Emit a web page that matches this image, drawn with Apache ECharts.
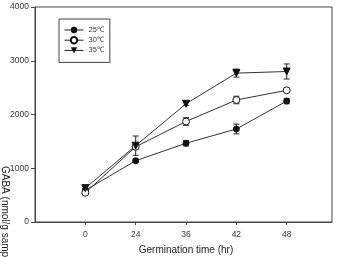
<!DOCTYPE html>
<html><head><meta charset="utf-8">
<script src="https://cdn.jsdelivr.net/npm/echarts@6/dist/echarts.min.js"></script>
<style>html,body{margin:0;padding:0;background:#fff}#c{width:339px;height:257px}</style>
</head><body><div id="c"></div>
<script>
var categories = ['0', '24', '36', '42', '48'];
var yTicks = [0, 1000, 2000, 3000, 4000];
var s25 = [590, 1140, 1465, 1730, 2250];
var s25err = [30, 35, 50, 90, 50];
var s30 = [545, 1400, 1870, 2270, 2450];
var s30err = [30, 40, 70, 70, 20];
var s35 = [630, 1420, 2200, 2770, 2800];
var s35err = [30, 180, 30, 75, 140];
var names = ['25℃', '30℃', '35℃'];

var chart = echarts.init(document.getElementById('c'), null, {renderer: 'canvas'});
function pts(arr) { return arr.map(function (v, i) { return [i, v]; }); }
function errs(arr, e) { return arr.map(function (v, i) { return [i, v - e[i], v + e[i]]; }); }
function errSeries(arr, e) {
  return {
    type: 'custom', silent: true, z: 1,
    data: errs(arr, e),
    renderItem: function (params, api) {
      var x = api.value(0);
      var lo = api.coord([x, api.value(1)]);
      var hi = api.coord([x, api.value(2)]);
      var w = 3;
      var st = {stroke: '#222', lineWidth: 1};
      return {type: 'group', children: [
        {type: 'line', shape: {x1: lo[0], y1: lo[1], x2: hi[0], y2: hi[1]}, style: st},
        {type: 'line', shape: {x1: lo[0] - w, y1: lo[1], x2: lo[0] + w, y2: lo[1]}, style: st},
        {type: 'line', shape: {x1: hi[0] - w, y1: hi[1], x2: hi[0] + w, y2: hi[1]}, style: st}
      ]};
    }
  };
}
var lineBase = {type: 'line', lineStyle: {color: '#333', width: 1}, z: 3};
chart.setOption({
  animation: false,
  textStyle: {fontFamily: 'Liberation Sans'},
  grid: {left: 35, right: 7, top: 7, bottom: 35, show: true, borderColor: '#444', borderWidth: 1},
  legend: {
    data: names, orient: 'vertical', left: 59, top: 19,
    borderColor: '#444', borderWidth: 1, borderRadius: 0,
    padding: [7, 6, 8, 5], itemGap: 2, itemWidth: 19, itemHeight: 8,
    lineStyle: {width: 1, color: '#222'},
    textStyle: {fontSize: 7.5, color: '#333', fontFamily: 'Liberation Sans'}
  },
  xAxis: {
    type: 'value', min: -1, max: 4.9, interval: 1,
    axisLine: {onZero: false, lineStyle: {color: '#444'}},
    axisTick: {show: true, length: 3, customValues: [0, 1, 2, 3, 4], lineStyle: {color: '#444'}},
    axisLabel: {customValues: [0, 1, 2, 3, 4], fontSize: 8.5, color: '#333', margin: 8,
      formatter: function (v) { return categories[Math.round(v)] || ''; }},
    splitLine: {show: false}
  },
  yAxis: {
    type: 'value', min: 0, max: 4000, interval: 1000,
    axisLine: {show: true, onZero: false, lineStyle: {color: '#444'}},
    axisTick: {show: true, length: 4, lineStyle: {color: '#444'}},
    axisLabel: {fontSize: 8.5, color: '#333', margin: 6,
      formatter: function (v) { return yTicks.indexOf(v) >= 0 ? String(v) : ''; }},
    splitLine: {show: false}
  },
  graphic: [
    {type: 'text', x: 186, y: 245, style: {text: 'Germination time (hr)', fontSize: 10, fill: '#222', fontFamily: 'Liberation Sans', textAlign: 'center', textVerticalAlign: 'top'}},
    {type: 'text', x: 0, y: 166, rotation: -Math.PI / 2, style: {text: 'GABA (nmol/g sample)', fontSize: 10, fill: '#222', fontFamily: 'Liberation Sans', textAlign: 'left', textVerticalAlign: 'bottom'}}
  ],
  series: [
    Object.assign({}, lineBase, {name: names[0], data: pts(s25), symbol: 'circle', symbolSize: 6,
      itemStyle: {color: '#111', borderColor: '#111'}}),
    Object.assign({}, lineBase, {name: names[1], data: pts(s30), symbol: 'circle', symbolSize: 7,
      itemStyle: {color: '#fff', borderColor: '#111', borderWidth: 1}}),
    Object.assign({}, lineBase, {name: names[2], data: pts(s35), symbol: 'triangle', symbolRotate: 180, symbolSize: 7,
      itemStyle: {color: '#111', borderColor: '#111'}}),
    errSeries(s25, s25err), errSeries(s30, s30err), errSeries(s35, s35err)
  ]
});
</script></body></html>
